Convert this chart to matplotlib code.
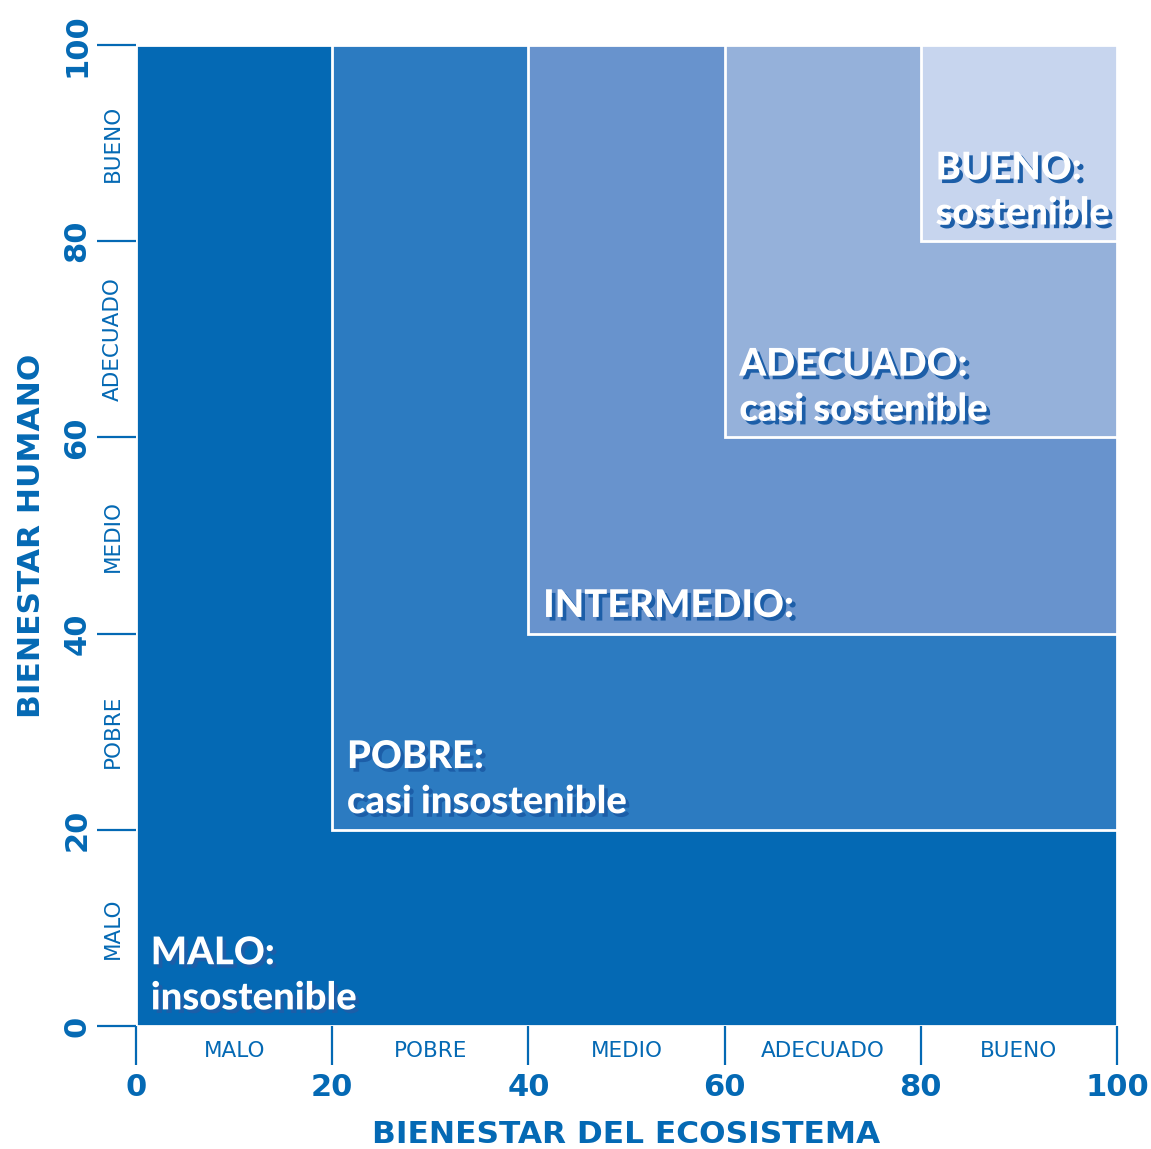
import matplotlib.pyplot as plt
import matplotlib.patheffects as pe
from matplotlib.patches import Rectangle

# nested regions: lower-left corner of each square zone
region_start = [0, 20, 40, 60, 80]
region_colors = ["#0469b4", "#2c7bc1", "#6893cd", "#95b1da", "#c7d5ee"]
region_titles = ["MALO:", "POBRE:", "INTERMEDIO:", "ADECUADO:", "BUENO:"]
region_subtitles = ["insostenible", "casi insostenible", "", "casi sostenible", "sostenible"]

ticks = [0, 20, 40, 60, 80, 100]
band_labels = ["MALO", "POBRE", "MEDIO", "ADECUADO", "BUENO"]

blue = "#0469b4"
shadow_col = "#1c5ea8"

fig = plt.figure(figsize=(11.51, 11.49), dpi=100)
ax = fig.add_axes([0.1182, 0.1070, 0.8523, 0.8538])
ax.set_xlim(0, 100)
ax.set_ylim(0, 100)

for x0, col in zip(region_start, region_colors):
    ax.add_patch(Rectangle((x0, x0), 100 - x0, 100 - x0, facecolor=col,
                           edgecolor="white", lw=2, clip_on=False))

fx = [pe.SimplePatchShadow(offset=(2.6, -2.6), shadow_rgbFace=shadow_col, alpha=1),
      pe.Normal()]
for x0, t1, t2 in zip(region_start, region_titles, region_subtitles):
    lines = [t for t in (t1, t2) if t]
    base = x0 + 1.7
    for k, line in enumerate(reversed(lines)):
        ax.text(x0 + 1.5, base + k * 4.6, line, color="white", fontsize=27.5,
                family="Lato", fontweight="black", va="baseline", ha="left",
                path_effects=fx)

for s in ax.spines.values():
    s.set_visible(False)

ax.set_xticks(ticks)
ax.set_yticks(ticks)
ax.tick_params(axis="both", length=28, width=1.6, color=blue, labelcolor=blue,
               labelsize=22)
ax.tick_params(axis="x", pad=6)
ax.tick_params(axis="y", pad=4)
for lab in ax.get_xticklabels():
    lab.set_fontweight("bold")
for lab in ax.get_yticklabels():
    lab.set_fontweight("bold")
    lab.set_rotation(90)
    lab.set_va("center")

for i, name in enumerate(band_labels):
    mid = (ticks[i] + ticks[i + 1]) / 2
    ax.text(mid, -0.0255, name, transform=ax.get_xaxis_transform(), ha="center",
            va="center", color=blue, fontsize=15.5)
    ax.text(-0.0234, mid, name, transform=ax.get_yaxis_transform(), ha="center",
            va="center", rotation=90, color=blue, fontsize=15.5)

ax.set_xlabel("BIENESTAR DEL ECOSISTEMA", color=blue, fontsize=22.5,
              fontweight="bold", labelpad=13)
ax.set_ylabel("BIENESTAR HUMANO", color=blue, fontsize=22.5,
              fontweight="bold", labelpad=12)

fig.savefig("out.png", dpi=100)
